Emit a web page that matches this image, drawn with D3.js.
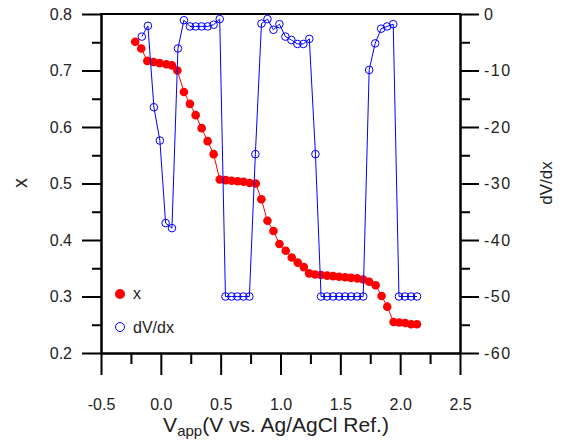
<!DOCTYPE html>
<html>
<head>
<meta charset="utf-8">
<script src="https://cdn.jsdelivr.net/npm/d3@7"></script>
<style>
  html, body { margin: 0; padding: 0; background: #fff; }
  svg text { font-family: "Liberation Sans", Arial, sans-serif; fill: #222; }
</style>
</head>
<body>
<svg id="chart" width="567" height="442"></svg>
<script>
// ---- data ----
const voltX = [-0.214,-0.164,-0.113,-0.061,-0.010,0.046,0.093,0.138,0.193,0.243,0.291,0.341,0.391,0.441,0.492,0.542,0.592,0.642,0.692,0.742,0.793,0.840,0.891,0.941,0.991,1.044,1.094,1.144,1.195,1.239,1.289,1.339,1.390,1.440,1.490,1.540,1.590,1.641,1.691,1.741,1.795,1.845,1.892,1.945,1.992,2.042,2.092,2.140];
const xVals = [0.751,0.739,0.717,0.715,0.713,0.711,0.709,0.700,0.662,0.641,0.621,0.598,0.575,0.552,0.507,0.506,0.505,0.504,0.503,0.501,0.500,0.472,0.434,0.416,0.393,0.381,0.369,0.360,0.352,0.341,0.339,0.338,0.337,0.336,0.335,0.334,0.333,0.332,0.330,0.326,0.320,0.301,0.282,0.255,0.254,0.253,0.251,0.251];
const voltD = [-0.159,-0.108,-0.058,-0.008,0.040,0.093,0.143,0.193,0.243,0.291,0.341,0.391,0.441,0.492,0.540,0.590,0.640,0.690,0.740,0.790,0.841,0.891,0.941,0.991,1.041,1.091,1.141,1.191,1.241,1.292,1.339,1.390,1.440,1.490,1.540,1.590,1.641,1.691,1.741,1.791,1.841,1.891,1.942,1.990,2.040,2.091,2.141];
const dVdx = [-4.0,-2.1,-16.5,-22.4,-37.0,-37.9,-6.1,-1.1,-2.2,-2.2,-2.2,-2.2,-1.9,-0.9,-50,-50,-50,-50,-50,-24.8,-1.7,-0.9,-2.8,-1.8,-4.0,-4.6,-5.3,-5.3,-4.4,-24.8,-50,-50,-50,-50,-50,-50,-50,-50,-9.9,-5.2,-2.6,-2.2,-1.8,-50,-50,-50,-50];

const xTicksMajor = [-0.5,0.0,0.5,1.0,1.5,2.0,2.5];
const xTicksMinor = [-0.25,0.25,0.75,1.25,1.75,2.25];
const yLTicksMajor = [0.2,0.3,0.4,0.5,0.6,0.7,0.8];
const yLTicksMinor = [0.25,0.35,0.45,0.55,0.65,0.75];
const yRTicksMajor = [-60,-50,-40,-30,-20,-10,0];
const yRTicksMinor = [-55,-45,-35,-25,-15,-5];
const legendLabels = ["x","dV/dx"];

// ---- layout ----
const L = 101, R = 460, T = 14, B = 353;
const RED = "#ff0000", BLUE = "#0000ff";
const svg = d3.select("#chart");

const x = d3.scaleLinear().domain([-0.5, 2.5]).range([L, R]);
const yL = d3.scaleLinear().domain([0.2, 0.8]).range([B, T]);
const yR = d3.scaleLinear().domain([-60, 0]).range([B, T]);

const hy = f => (d => f(d).replace("\u2212", "-"));
const fmt1 = hy(d3.format(".1f"));
const fmt0 = hy(d3.format("d"));

function styleAxis(g) {
  g.select(".domain").attr("stroke", "#000").attr("stroke-width", 2);
  g.selectAll(".tick line").attr("stroke", "#000").attr("stroke-width", 2);
  g.selectAll("text").style("font-size", "16px").attr("fill", "#222");
}

// bottom axis
svg.append("g").attr("transform", `translate(0,${B})`)
  .call(d3.axisBottom(x).tickValues(xTicksMinor).tickSize(11).tickSizeOuter(0).tickFormat(""))
  .call(styleAxis);
svg.append("g").attr("transform", `translate(0,${B})`)
  .call(d3.axisBottom(x).tickValues(xTicksMajor).tickSize(22).tickSizeOuter(0).tickPadding(24).tickFormat(fmt1))
  .call(styleAxis);

// left axis
svg.append("g").attr("transform", `translate(${L},0)`)
  .call(d3.axisLeft(yL).tickValues(yLTicksMinor).tickSize(9).tickSizeOuter(0).tickFormat(""))
  .call(styleAxis);
svg.append("g").attr("transform", `translate(${L},0)`)
  .call(d3.axisLeft(yL).tickValues(yLTicksMajor).tickSize(19).tickSizeOuter(0).tickPadding(10).tickFormat(fmt1))
  .call(styleAxis);

// right axis
svg.append("g").attr("transform", `translate(${R},0)`)
  .call(d3.axisRight(yR).tickValues(yRTicksMinor).tickSize(10).tickSizeOuter(0).tickFormat(""))
  .call(styleAxis);
svg.append("g").attr("transform", `translate(${R},0)`)
  .call(d3.axisRight(yR).tickValues(yRTicksMajor).tickSize(19).tickSizeOuter(0).tickPadding(5).tickFormat(fmt0))
  .call(styleAxis)
  .selectAll("text").style("letter-spacing", "1.5px");

// top frame
svg.append("line").attr("x1", L - 1).attr("x2", R + 1).attr("y1", T).attr("y2", T)
  .attr("stroke", "#000").attr("stroke-width", 2);

// ---- x series (red) ----
const redData = voltX.map((v, i) => [v, xVals[i]]);
svg.append("path").datum(redData)
  .attr("fill", "none").attr("stroke", RED).attr("stroke-width", 1)
  .attr("d", d3.line().x(d => x(d[0])).y(d => yL(d[1])));
svg.append("g").selectAll("circle").data(redData).join("circle")
  .attr("cx", d => x(d[0])).attr("cy", d => yL(d[1])).attr("r", 4.3)
  .attr("fill", RED);

// ---- dV/dx series (blue) ----
const blueData = voltD.map((v, i) => [v, dVdx[i]]);
svg.append("path").datum(blueData)
  .attr("fill", "none").attr("stroke", BLUE).attr("stroke-width", 1)
  .attr("d", d3.line().x(d => x(d[0])).y(d => yR(d[1])));
svg.append("g").selectAll("circle").data(blueData).join("circle")
  .attr("cx", d => x(d[0])).attr("cy", d => yR(d[1])).attr("r", 3.8)
  .attr("fill", "none").attr("stroke", BLUE).attr("stroke-width", 1);

// ---- legend ----
svg.append("circle").attr("cx", 120).attr("cy", 294).attr("r", 5).attr("fill", RED);
svg.append("text").attr("x", 133).attr("y", 299).style("font-size", "16px").text(legendLabels[0]);
svg.append("circle").attr("cx", 120).attr("cy", 327).attr("r", 4.5)
  .attr("fill", "none").attr("stroke", BLUE).attr("stroke-width", 1);
svg.append("text").attr("x", 133).attr("y", 333).style("font-size", "16px").text(legendLabels[1]);

// ---- axis titles ----
const xt = svg.append("text").attr("x", 276).attr("y", 432).attr("text-anchor", "middle")
  .style("font-size", "21px");
xt.append("tspan").text("V");
xt.append("tspan").attr("dy", 4).style("font-size", "15px").text("app");
xt.append("tspan").attr("dy", -4).text("(V vs. Ag/AgCl Ref.)");

svg.append("text").attr("transform", "translate(27,183) rotate(-90)")
  .attr("text-anchor", "middle").style("font-size", "20px").text("x");
svg.append("text").attr("transform", "translate(552,183) rotate(-90)")
  .attr("text-anchor", "middle").style("font-size", "17px").text("dV/dx");
</script>
</body>
</html>
